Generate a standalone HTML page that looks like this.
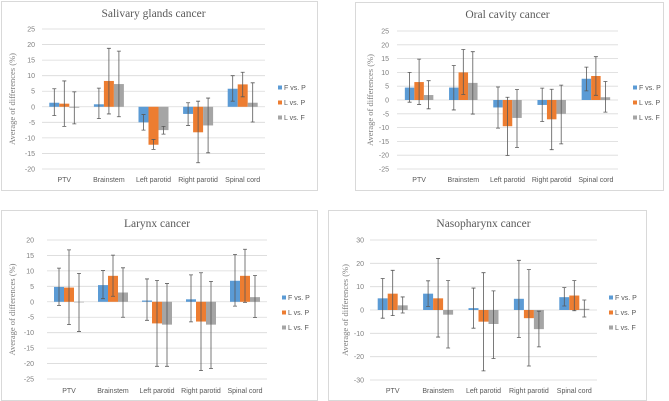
<!DOCTYPE html>
<html><head><meta charset="utf-8">
<style>
html,body{margin:0;padding:0;background:#fff;}
svg{display:block;}
text{font-family:"Liberation Sans",sans-serif;}
</style></head>
<body>
<svg id="fig" width="669" height="401" viewBox="0 0 669 401" xmlns="http://www.w3.org/2000/svg"></svg>
<script>
const categories = ["PTV","Brainstem","Left parotid","Right parotid","Spinal cord"];
const seriesNames = ["F vs. P","L vs. P","L vs. F"];

// Salivary glands
const sgMeanF = [1.3, 0.8, -5, -2.3, 5.8];
const sgLoF = [-2.8, -3.8, -7.5, -6, 1.8];
const sgHiF = [5.8, 6, -2.5, 1.3, 10];
const sgMeanL = [1, 8.3, -12.2, -8.2, 7.2];
const sgLoL = [-6.3, -2.3, -13.7, -18, 3.2];
const sgHiL = [8.3, 18.8, -10.5, 1.8, 11.1];
const sgMeanLF = [-0.3, 7.3, -7.5, -6, 1.3];
const sgLoLF = [-5.5, -3.2, -8.8, -14.8, -4.9];
const sgHiLF = [4.8, 17.9, -6.3, 2.8, 7.7];
const sgTicks = [25,20,15,10,5,0,-5,-10,-15,-20];

// Oral cavity
const ocMeanF = [4.5, 4.5, -2.7, -1.8, 7.7];
const ocLoF = [-0.8, -3.6, -10.2, -7.8, 3.3];
const ocHiF = [10, 12.5, 4.7, 4.3, 11.9];
const ocMeanL = [6.5, 10, -9.5, -7, 8.7];
const ocLoL = [-1.6, 2, -20.1, -18, 1.7];
const ocHiL = [14.8, 18.3, 1, 3.9, 15.7];
const ocMeanLF = [1.8, 6.2, -6.5, -5, 1];
const ocLoLF = [-3.2, -5.1, -17.2, -15.9, -4.4];
const ocHiLF = [7, 17.5, 3.8, 5.4, 6.7];
const ocTicks = [25,20,15,10,5,0,-5,-10,-15,-20,-25];

// Larynx
const lxMeanF = [4.8, 5.4, 0.4, 0.8, 6.8];
const lxLoF = [-1.2, 1, -6, -6.5, -1.4];
const lxHiF = [10.9, 10.1, 7.4, 8.7, 15.3];
const lxMeanL = [4.6, 8.4, -7, -6.4, 8.4];
const lxLoL = [-7.4, 1.8, -20.9, -22.3, -0.2];
const lxHiL = [16.8, 15.1, 6.9, 9.4, 17];
const lxMeanLF = [-0.2, 3, -7.4, -7.4, 1.5];
const lxLoLF = [-9.6, -5, -20.9, -21.6, -5.1];
const lxHiLF = [9.2, 11, 5.9, 6.6, 8.5];
const lxTicks = [20,15,10,5,0,-5,-10,-15,-20,-25];

// Nasopharynx
const npMeanF = [5, 7, 0.8, 4.8, 5.5];
const npLoF = [-3.5, 1.5, -7.8, -11.8, 1.7];
const npHiF = [13.5, 12.5, 9.4, 21.3, 9.6];
const npMeanL = [7, 5, -5, -3.5, 6.2];
const npLoL = [-2.4, -11.6, -26.1, -24, -0.3];
const npHiL = [17, 22.1, 16, 17.3, 12.6];
const npMeanLF = [2, -2, -6, -8.2, 0.5];
const npLoLF = [-1.3, -16.3, -20.8, -15.8, -3];
const npHiLF = [5.6, 12.6, 8.2, -0.5, 4.3];
const npTicks = [30,20,10,0,-10,-20,-30];

const colors = ["#5b9bd5","#ed7d31","#a5a5a5"];
const NS = "http://www.w3.org/2000/svg";
const svg = document.getElementById("fig");
function mk(tag, attrs, parent){
  const e = document.createElementNS(NS, tag);
  for (const k in attrs) e.setAttribute(k, attrs[k]);
  (parent||svg).appendChild(e);
  return e;
}

const panels = [
  {key:"salivary", title:"Salivary glands cancer", fx:1, fy:1, fw:316, fh:189, titleY:17,
   x0:42, x1:265, yTop:29, yBot:169, tMax:25, tMin:-20, ticks:sgTicks, labX:35, ytX:15, catY:182, legX:278, legY:89, bw:10,
   means:[sgMeanF,sgMeanL,sgMeanLF], lo:[sgLoF,sgLoL,sgLoLF], hi:[sgHiF,sgHiL,sgHiLF]},
  {key:"oral", title:"Oral cavity cancer", fx:355, fy:2, fw:308, fh:188, titleY:18,
   x0:397, x1:618, yTop:31, yBot:169, tMax:25, tMin:-25, ticks:ocTicks, labX:389, ytX:373, catY:182, legX:633, legY:89, bw:9.5,
   means:[ocMeanF,ocMeanL,ocMeanLF], lo:[ocLoF,ocLoL,ocLoLF], hi:[ocHiF,ocHiL,ocHiLF]},
  {key:"larynx", title:"Larynx cancer", fx:1, fy:210, fw:316, fh:190, titleY:227,
   x0:47, x1:267, yTop:240, yBot:379, tMax:20, tMin:-25, ticks:lxTicks, labX:34, ytX:15, catY:393, legX:282, legY:299, bw:10,
   means:[lxMeanF,lxMeanL,lxMeanLF], lo:[lxLoF,lxLoL,lxLoLF], hi:[lxHiF,lxHiL,lxHiLF]},
  {key:"nasopharynx", title:"Nasopharynx cancer", fx:328, fy:210, fw:318, fh:190, titleY:227,
   x0:370, x1:597, yTop:240, yBot:380, tMax:30, tMin:-30, ticks:npTicks, labX:364, ytX:348, catY:393, legX:609, legY:299, bw:10,
   means:[npMeanF,npMeanL,npMeanLF], lo:[npLoF,npLoL,npLoLF], hi:[npHiF,npHiL,npHiLF]}
];

panels.forEach(p => {
  const g = mk("g", {});
  
  
  const fr = mk("rect", {x:p.fx+0.5, y:p.fy+0.5, width:p.fw, height:p.fh, fill:"#fff", stroke:"#d9d9d9", "stroke-width":1}, g);
  
  
  const ys = v => p.yTop + (p.tMax - v) * (p.yBot - p.yTop) / (p.tMax - p.tMin);
  const cw = (p.x1 - p.x0) / categories.length;
  const xs = i => p.x0 + cw * (i + 0.5);

  const t = mk("text", {x:(p.x0+p.x1)/2, y:p.titleY, "text-anchor":"middle", "font-size":"11.5", fill:"#595959", style:"font-family:'Liberation Serif',serif"}, g);
  t.textContent = p.title;
  
  

  p.ticks.forEach(v => {
    const y = ys(v);
    const gl = mk("line", {x1:p.x0, x2:p.x1, y1:y, y2:y, stroke:"#d9d9d9", "stroke-width":0.8}, g);
    
    
    const tl = mk("text", {x:p.labX, y:y+2.5, "text-anchor":"end", "font-size":"7", fill:"#7f7f7f"}, g);
    tl.textContent = v;
    
    
  });

  const yc = (p.yTop + p.yBot) / 2;
  const yt = mk("text", {x:p.ytX, y:yc, "text-anchor":"middle", "font-size":"8.5", fill:"#7f7f7f", transform:`rotate(-90 ${p.ytX} ${yc})`, style:"font-family:'Liberation Serif',serif"}, g);
  yt.textContent = "Average of differences (%)";
  
  

  categories.forEach((c, i) => {
    const cl = mk("text", {x:xs(i), y:p.catY, "text-anchor":"middle", "font-size":"7", fill:"#595959"}, g);
    cl.textContent = c;
    
    
  });

  for (let s = 0; s < 3; s++) {
    categories.forEach((c, i) => {
      const v = p.means[s][i];
      const bx = xs(i) - 1.5*p.bw + s*p.bw;
      const y0 = ys(0), yv = ys(v);
      const r = mk("rect", {x:bx, y:Math.min(y0,yv), width:p.bw, height:Math.max(Math.abs(yv-y0),0.5), fill:colors[s]}, g);
      
      
    });
  }
  for (let s = 0; s < 3; s++) {
    categories.forEach((c, i) => {
      const cx = xs(i) - p.bw + s*p.bw;
      const ylo = ys(p.lo[s][i]), yhi = ys(p.hi[s][i]);
      const eb = mk("path", {d:`M${cx},${ylo}V${yhi}M${cx-2},${ylo}H${cx+2}M${cx-2},${yhi}H${cx+2}`, stroke:"#595959", "stroke-width":0.8, fill:"none"}, g);
      
      
    });
  }

  seriesNames.forEach((n, s) => {
    const ly = p.legY + s*15;
    const lg = mk("g", {}, g);
    
    
    mk("rect", {x:p.legX, y:ly-3.5, width:4, height:4, fill:colors[s]}, lg);
    const lt = mk("text", {x:p.legX+6, y:ly+1, "font-size":"7", fill:"#595959"}, lg);
    lt.textContent = n;
  });
});
</script>
</body></html>
